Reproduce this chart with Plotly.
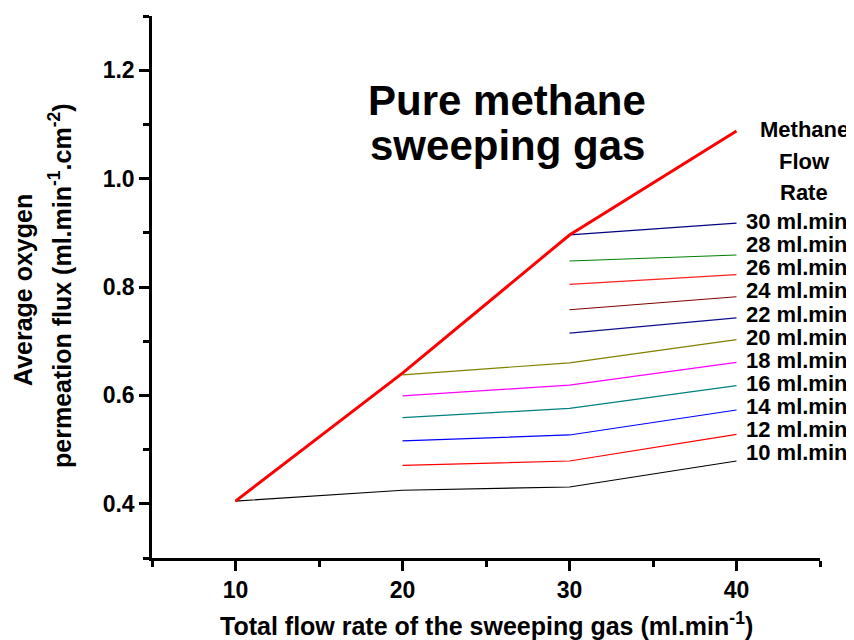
import plotly.graph_objects as go

# total flow rate of the sweeping gas (ml/min)
sweep_x = [10, 20, 30, 40]

# pure methane sweeping gas
pure_flux = [0.405, 0.641, 0.896, 1.088]

# methane flow rate series (values aligned to the last points of sweep_x)
flux_30 = [0.896, 0.918]
flux_28 = [0.848, 0.859]
flux_26 = [0.805, 0.823]
flux_24 = [0.758, 0.782]
flux_22 = [0.715, 0.743]
flux_20 = [0.638, 0.660, 0.703]
flux_18 = [0.599, 0.619, 0.661]
flux_16 = [0.559, 0.576, 0.618]
flux_14 = [0.516, 0.527, 0.573]
flux_12 = [0.471, 0.479, 0.528]
flux_10 = [0.405, 0.425, 0.431, 0.479]

label_rates = [30, 28, 26, 24, 22, 20, 18, 16, 14, 12, 10]

series = [
    (flux_30, "#000080"),
    (flux_28, "#008000"),
    (flux_26, "#ff2020"),
    (flux_24, "#800000"),
    (flux_22, "#10108a"),
    (flux_20, "#808000"),
    (flux_18, "#ff00ff"),
    (flux_16, "#008080"),
    (flux_14, "#0000ff"),
    (flux_12, "#ff0000"),
    (flux_10, "#000000"),
]

FONT = "Liberation Sans, Arial, sans-serif"

# page has an 8px body margin, so the figure is 846x632 placed at (8, 8)
OFF = 8
W, H = 854 - OFF, 640 - OFF
# plot area in page pixels: x 152..820, y 16..558
L, R, T, B = 152, 820, 16, 558


def px(x):
    return (x - L) / (R - L)


def py(y):
    return (B - y) / (B - T)


fig = go.Figure()

for vals, col in series:
    fig.add_trace(go.Scatter(x=sweep_x[-len(vals):], y=vals, mode="lines",
                             line=dict(color=col, width=1.2), showlegend=False))

fig.add_trace(go.Scatter(x=sweep_x, y=pure_flux, mode="lines",
                         line=dict(color="#ff0000", width=3), showlegend=False))

ann = []
# big title inside plot
ann.append(dict(text="Pure methane", x=px(507), y=py(101), font=dict(size=42)))
ann.append(dict(text="sweeping gas", x=px(507), y=py(145), font=dict(size=42)))

# right hand labels
for i, t in enumerate(["Methane", "Flow", "Rate"]):
    ann.append(dict(text=t, x=px(804), y=py(129.5 + i * 31.6), font=dict(size=22)))
for i, r in enumerate(label_rates):
    ann.append(dict(text=f"{r} ml.min<sup>-1</sup>", x=px(744), xanchor="left",
                    y=py(220.3 + i * 23.05), font=dict(size=22)))

# axis titles
ann.append(dict(text="Total flow rate of the sweeping gas (ml.min<sup>-1</sup>)",
                x=px(486), y=py(624), font=dict(size=25)))
ann.append(dict(text="Average oxygen", x=px(23), y=py(290), textangle=-90,
                font=dict(size=25)))
ann.append(dict(text="permeation flux (ml.min<sup>-1</sup>.cm<sup>-2</sup>)",
                x=px(60), y=py(286), textangle=-90, font=dict(size=25)))

for a in ann:
    a.setdefault("xanchor", "center")
    a.update(xref="paper", yref="paper", yanchor="middle", showarrow=False)
    a["font"].update(family=FONT, color="black", weight="bold")

axis_style = dict(showline=True, linecolor="black", linewidth=2.5, mirror=False,
                  ticks="outside", ticklen=10, tickwidth=2.5, tickcolor="black",
                  showgrid=False, zeroline=False,
                  tickfont=dict(family=FONT, size=23, color="black", weight="bold"))

fig.update_layout(
    width=W, height=H,
    margin=dict(l=L - OFF, r=854 - R, t=T - OFF, b=640 - B, pad=0),
    paper_bgcolor="white", plot_bgcolor="white",
    annotations=ann,
    xaxis=dict(range=[5, 45], tick0=10, dtick=10,
               minor=dict(dtick=5, tick0=5, ticks="outside", ticklen=6,
                          tickwidth=2.5, tickcolor="black"),
               **axis_style),
    yaxis=dict(range=[0.3, 1.3], tick0=0.4, dtick=0.2, tickformat=".1f",
               minor=dict(dtick=0.1, tick0=0.3, ticks="outside", ticklen=6,
                          tickwidth=2.5, tickcolor="black"),
               **axis_style),
)

fig.write_html("out.html")
